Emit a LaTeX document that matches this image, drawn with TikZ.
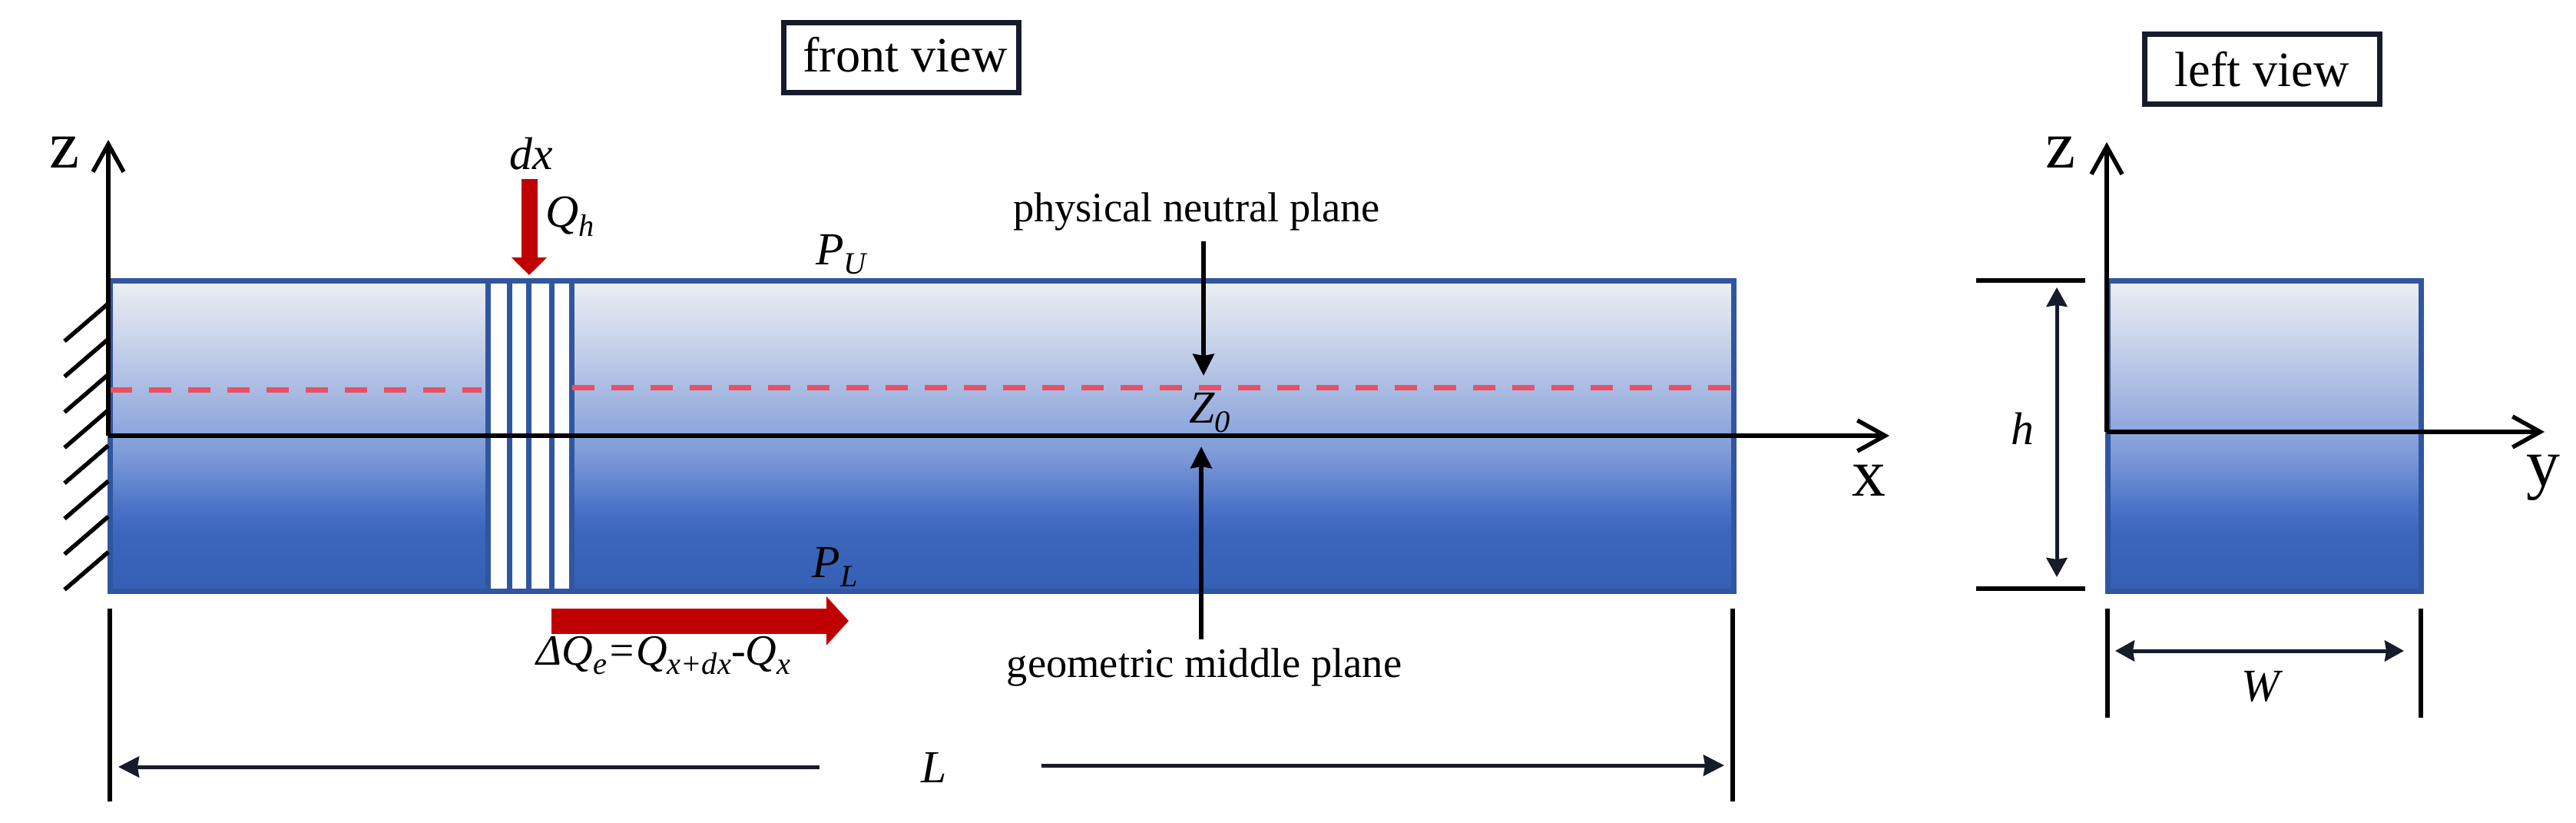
\documentclass[tikz,border=0pt]{standalone}
\usepackage{fontspec}
\setmainfont{Liberation Serif}
\usetikzlibrary{arrows.meta}
\definecolor{beamblue}{RGB}{48,86,160}
\definecolor{planered}{RGB}{232,80,100}
\definecolor{heatred}{RGB}{192,0,0}
\definecolor{dimblack}{RGB}{22,28,42}
\definecolor{gradA}{RGB}{53,96,180}
\definecolor{gradB}{RGB}{60,102,188}
\definecolor{gradC}{RGB}{75,115,200}
\definecolor{gradD}{RGB}{120,150,215}
\definecolor{gradE}{RGB}{143,167,220}
\definecolor{gradF}{RGB}{203,213,235}
\definecolor{gradG}{RGB}{236,238,242}
\pgfdeclareverticalshading{beamgrad}{100bp}{color(0bp)=(gradA);
	color(25bp)=(gradA);
	color(34.5bp)=(gradB);
	color(38.6bp)=(gradC);
	color(46bp)=(gradD);
	color(51bp)=(gradE);
	color(65.75bp)=(gradF);
	color(75bp)=(gradG);
	color(100bp)=(gradG)}
\tikzset{
	beam/.style={draw=beamblue, line width=0.07cm, shading=beamgrad},
	slice/.style={draw=beamblue, line width=0.07cm, fill=white},
	neutral/.style={color=planered, line width=0.07cm, dash pattern=on 0.29cm off 0.22cm},
	axis/.style={line width=0.065cm, -{Straight Barb[length=0.36cm, width=0.4cm, line width=0.055cm]}},
	pointer/.style={line width=0.065cm, -{Stealth[length=0.28cm, width=0.27cm, inset=0.02cm]}},
	dim/.style={color=dimblack, line width=0.05cm, {Stealth[length=0.25cm, width=0.27cm, inset=0.02cm]}-{Stealth[length=0.25cm, width=0.27cm, inset=0.02cm]}},
	dimleft/.style={color=dimblack, line width=0.05cm, {Stealth[length=0.27cm, width=0.27cm, inset=0.02cm]}-},
	dimright/.style={color=dimblack, line width=0.05cm, -{Stealth[length=0.27cm, width=0.27cm, inset=0.02cm]}},
	tick/.style={line width=0.06cm},
	hatch/.style={line width=0.055cm},
	viewbox/.style={draw=dimblack, line width=0.07cm, minimum width=3.06cm, minimum height=0.91cm, inner sep=0pt, font=\fontsize{18.3}{18.3}\selectfont},
	label/.style={inner sep=0pt, font=\fontsize{15.5}{16}\selectfont},
	axislabel/.style={inner sep=0pt, font=\fontsize{25}{25}\selectfont},
	symbol/.style={inner sep=0pt, font=\fontsize{17}{17}\selectfont\itshape}
}
\newcommand{\lowidx}[1]{\raisebox{-0.45ex}{\fontsize{11.5}{11.5}\selectfont #1}}

\begin{document}
\begin{tikzpicture}
	%%%%% background %%%%%
	\useasboundingbox (0, 0) rectangle (33.54, 10.7);

	%%%%% front view %%%%%
	\draw[beam] (1.43, 3.01) rectangle (22.57, 7.05);
	\foreach \sx/\ex in {6.35/6.635, 6.635/6.885, 6.885/7.18, 7.18/7.44}
		\draw[slice] (\sx, 3.01) rectangle (\ex, 7.05);
	\draw[neutral] (1.43, 5.63) -- (6.27, 5.63);
	\draw[neutral] (7.45, 5.66) -- (22.57, 5.66);

	\foreach \i in {0,...,7}
		\draw[hatch] (1.41, {6.75-0.462*\i}) -- ++(-0.57, -0.49);

	\draw[axis] (1.41, 5.03) -- (1.41, 8.88);
	\draw[axis] (1.41, 5.03) -- (24.6, 5.03);

	\node[axislabel] (zfront) at (0.84, 8.72) {z};
	\node[axislabel] (xfront) at (24.33, 4.45) {x};
	\node[symbol] (dxlabel) at (6.92, 8.7) {dx};
	\node[symbol] (qhlabel) at (7.42, 7.88) {Q\lowidx{h}};
	\node[symbol] (pulabel) at (10.95, 7.39) {P\lowidx{U}};
	\node[symbol] (pllabel) at (10.87, 3.32) {P\lowidx{L}};
	\node[symbol] (zolabel) at (15.75, 5.33) {Z\lowidx{0}};

	\coordinate (qhtop) at (6.89, 8.37);
	\coordinate (qhend) at (6.89, 7.12);
	\draw[color=heatred, line width=0.21cm, -{Triangle[length=0.23cm, width=0.45cm]}] (qhtop) -- (qhend);

	\coordinate (qestart) at (7.18, 2.62);
	\coordinate (qeend) at (11.05, 2.62);
	\draw[color=heatred, line width=0.33cm, -{Triangle[length=0.29cm, width=0.62cm]}] (qestart) -- (qeend);
	\node[symbol, font=\fontsize{16}{16}\selectfont\itshape] (qelabel) at (8.64, 2.17) {ΔQ\lowidx{e}=Q\lowidx{x+dx}-Q\lowidx{x}};

	\node[label] (neutrallabel) at (15.58, 7.95) {physical neutral plane};
	\coordinate (neutralend) at (15.67, 5.81);
	\draw[pointer] (15.67, 7.56) -- (neutralend);

	\node[label] (middlelabel) at (15.68, 2.02) {geometric middle plane};
	\coordinate (middleend) at (15.64, 4.89);
	\draw[pointer] (15.64, 2.38) -- (middleend);

	\draw[tick] (1.43, 2.78) -- (1.43, 0.27);
	\draw[tick] (22.56, 2.78) -- (22.56, 0.27);
	\node[symbol] (lengthlabel) at (12.16, 0.71) {L};
	\coordinate (lengthleft) at (1.54, 0.72);
	\coordinate (lengthright) at (22.45, 0.74);
	\draw[dimleft] (lengthleft) -- (10.67, 0.72);
	\draw[dimright] (13.56, 0.74) -- (lengthright);

	\node[viewbox] (frontview) at (11.735, 9.95) {\raisebox{0.08cm}{\hspace*{0.1cm}front view}};

	%%%%% left view %%%%%
	\draw[beam] (27.44, 3.01) rectangle (31.52, 7.05);
	\draw[axis] (27.43, 5.08) -- (27.43, 8.85);
	\draw[axis] (27.43, 5.08) -- (33.13, 5.08);

	\node[axislabel] (zleft) at (26.83, 8.72) {z};
	\node[axislabel] (yleft) at (33.11, 4.48) {y};
	\node[viewbox] (leftview) at (29.45, 9.8) {left view};

	\draw[tick] (25.73, 7.05) -- (27.15, 7.05);
	\draw[tick] (25.73, 3.04) -- (27.15, 3.04);
	\coordinate (heighttop) at (26.78, 6.96);
	\coordinate (heightbot) at (26.78, 3.19);
	\draw[dim] (heightbot) -- (heighttop);
	\node[symbol] (heightlabel) at (26.33, 5.12) {h};

	\draw[tick] (27.44, 2.78) -- (27.44, 1.36);
	\draw[tick] (31.52, 2.78) -- (31.52, 1.36);
	\coordinate (widthleft) at (27.54, 2.23);
	\coordinate (widthright) at (31.3, 2.23);
	\draw[dim] (widthleft) -- (widthright);
	\node[symbol] (widthlabel) at (29.43, 1.77) {W};
\end{tikzpicture}
\end{document}
